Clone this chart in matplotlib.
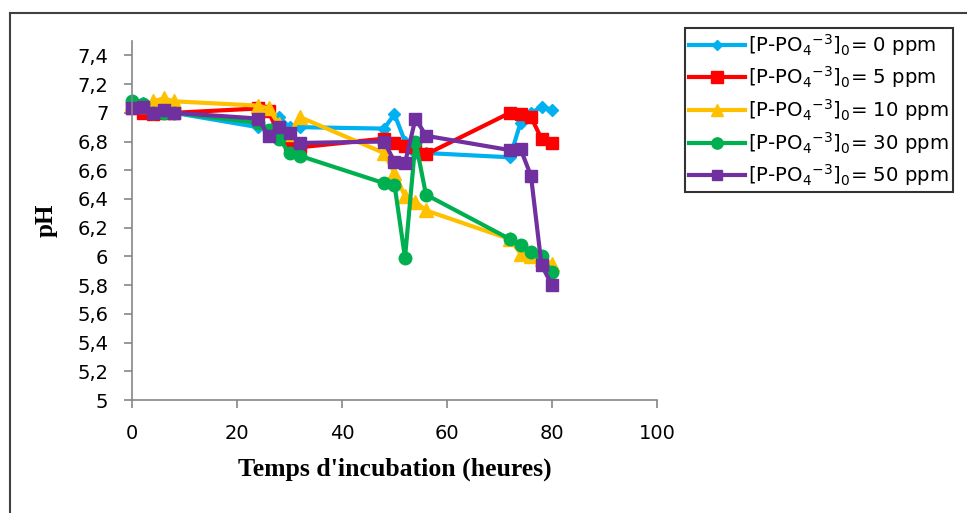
import matplotlib
matplotlib.use("Agg")
import matplotlib.pyplot as plt
from matplotlib.ticker import FuncFormatter, MultipleLocator
from matplotlib.lines import Line2D

# ---- data ----
hours = [0, 2, 4, 6, 8, 24, 26, 28, 30, 32, 48, 50, 52, 54, 56, 72, 74, 76, 78, 80]
ph_0ppm = [7.08, 7.07, 7.02, 7.0, 7.0, 6.9, 6.88, 6.97, 6.9, 6.9, 6.89, 6.99, 6.8, 6.72, 6.72, 6.69, 6.93, 7.0, 7.04, 7.02]
ph_5ppm = [7.03, 7.0, 6.99, 7.0, 7.0, 7.03, 7.01, 6.85, 6.78, 6.76, 6.82, 6.79, 6.77, 6.76, 6.71, 7.0, 6.99, 6.97, 6.82, 6.79]
ph_10ppm = [7.06, 7.05, 7.08, 7.1, 7.08, 7.05, 7.03, 6.92, 6.85, 6.97, 6.72, 6.58, 6.42, 6.38, 6.32, 6.12, 6.02, 6.0, 5.98, 5.95]
ph_30ppm = [7.08, 7.06, 7.0, 7.0, 7.0, 6.93, 6.88, 6.82, 6.72, 6.7, 6.51, 6.5, 5.99, 6.8, 6.43, 6.12, 6.08, 6.03, 6.0, 5.89]
ph_50ppm = [7.03, 7.04, 7.0, 7.02, 7.0, 6.96, 6.84, 6.9, 6.86, 6.79, 6.8, 6.66, 6.65, 6.96, 6.84, 6.74, 6.75, 6.56, 5.94, 5.8]
concentrations = ["0", "5", "10", "30", "50"]
labels = [r"[P-PO$_4$$^{-3}$]$_0$= " + c + " ppm" for c in concentrations]
x_label = "Temps d'incubation (heures)"
y_label = "pH"

series = [ph_0ppm, ph_5ppm, ph_10ppm, ph_30ppm, ph_50ppm]
colors = ["#00B0F0", "#FF0000", "#FFC000", "#00B050", "#7030A0"]
markers = ["D", "s", "^", "o", "s"]
msizes = [6, 9, 9.5, 9, 8.5]

plt.rcParams['font.family'] = ['DejaVu Sans']
plt.rcParams['mathtext.fontset'] = 'dejavusans'
plt.rcParams['mathtext.default'] = 'regular'

fig = plt.figure(figsize=(9.67, 5.13), dpi=100)
ax = fig.add_axes([132/967, 1 - 400/513, (657-132)/967, (400-41)/513])

for y, c, m, ms, lab in zip(series, colors, markers, msizes, labels):
    ax.plot(hours, y, color=c, lw=3, marker=m, ms=ms, mfc=c, mec=c, label=lab,
            clip_on=False, solid_joinstyle='round')

ax.set_xlim(0, 100)
ax.set_ylim(5, 7.5)
ax.xaxis.set_major_locator(MultipleLocator(20))
ax.set_yticks([5 + 0.2*i for i in range(13)])
fmt = FuncFormatter(lambda v, p: ("%g" % round(v, 2)).replace('.', ','))
ax.yaxis.set_major_formatter(fmt)
ax.xaxis.set_major_formatter(fmt)
for s in ['top', 'right']:
    ax.spines[s].set_visible(False)
for s in ['left', 'bottom']:
    ax.spines[s].set_color('#868686')
    ax.spines[s].set_linewidth(1.2)
ax.tick_params(axis='both', direction='out', length=6, width=1.2, color='#868686',
               labelsize=14, labelcolor='#000000')
ax.tick_params(axis='x', pad=11)
ax.tick_params(axis='y', pad=11)

ax.set_xlabel(x_label, fontsize=18.5, fontweight='bold', family='Liberation Serif', labelpad=11)
ax.set_ylabel(y_label, fontsize=18, fontweight='bold', family='Liberation Serif', labelpad=14)

handles = [Line2D([0], [0], color=c, lw=3, marker=m, ms=ms * 0.9, mfc=c, mec=c)
           for c, m, ms in zip(colors, markers, msizes)]
leg = fig.legend(handles, labels, loc='upper left', bbox_to_anchor=(685/967, 1 - 28/513),
                 bbox_transform=fig.transFigure, frameon=True, fancybox=False,
                 fontsize=14.2, handlelength=2.85, handletextpad=0.15, borderpad=0.2,
                 labelspacing=0.34, borderaxespad=0)
leg.get_frame().set_edgecolor('#000000')
leg.get_frame().set_linewidth(1.5)

# outer chart frame
fig.add_artist(Line2D([10/967, 10/967], [0, 1 - 13/513], transform=fig.transFigure,
                      color='#404040', lw=1.5))
fig.add_artist(Line2D([10/967, 1], [1 - 13/513, 1 - 13/513], transform=fig.transFigure,
                      color='#404040', lw=1.5))

fig.savefig("out.png", dpi=100)
